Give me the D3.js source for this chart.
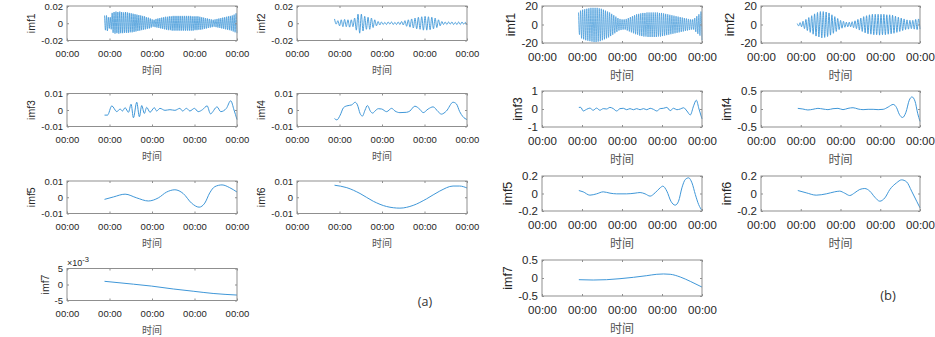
<!DOCTYPE html>
<html lang="zh">
<head>
<meta charset="UTF-8">
<title>imf</title>
<script src="https://d3js.org/d3.v7.min.js"></script>
<style>
  body { margin: 0; background: #fff; }
  svg { display: block; font-family: "Liberation Sans", Arial, sans-serif; }
</style>
</head>
<body>
<svg></svg>
<script>
const width = 935, height = 337;

// shared time axis (all ticks print as 00:00)
const xDomain = [0, 4];
const xTicks = [0, 1, 2, 3, 4];
const xTickText = '00:00';
const xTitle = '时间';

// sampled span of the oscillating series: [start, end]
const spanA = [0.883, 4];
const spanB = [0.912, 4];

// ---- panel (a) ----
// imf1/imf2: consecutive peak/trough values
const imf1a = [0.009,-0.008,0.009,-0.009,0.007,-0.006,0.007,-0.007,
  0.012,-0.011,0.013,-0.012,0.0135,-0.0115,0.013,-0.012,0.0135,-0.0115,0.013,-0.0115,0.0125,-0.011,0.013,-0.011,0.0125,-0.011,0.012,-0.0105,0.0115,-0.0105,
  0.011,-0.010,0.0105,-0.0095,0.010,-0.009,0.0095,-0.0085,0.009,-0.008,0.0085,-0.0075,0.008,-0.007,0.007,-0.0065,0.0065,-0.006,0.0055,-0.005,0.0045,-0.004,
  0.004,-0.0045,0.005,-0.005,0.0055,-0.0055,0.006,-0.006,0.0065,-0.0065,0.007,-0.007,0.0075,-0.0075,0.0075,-0.008,0.008,-0.008,0.008,-0.0085,0.0085,-0.0085,0.0085,-0.0085,0.0085,-0.0085,0.0085,-0.0085,
  0.0085,-0.0085,0.0085,-0.0085,0.0085,-0.0085,0.0085,-0.0085,0.0085,-0.0085,0.0085,-0.0085,0.008,-0.0085,0.008,-0.008,0.008,-0.008,0.008,-0.0075,0.0075,-0.0075,
  0.007,-0.007,0.0065,-0.0065,0.006,-0.006,0.0055,-0.0055,0.005,-0.005,0.0045,-0.0045,0.004,-0.004,
  0.0045,-0.0045,0.005,-0.005,0.0055,-0.0055,0.006,-0.006,0.0065,-0.0065,0.007,-0.007,0.0075,-0.0075,0.008,-0.008,0.0085,-0.0085,0.009,-0.0095,0.01,-0.0105,0.0115,-0.0115];

const imf2a = [0.005,-0.001,0.003,-0.003,
  0.004,-0.004,0.0045,-0.004,0.004,-0.0045,0.004,-0.004,
  0.006,-0.008,0.0105,-0.0115,0.0105,-0.009,0.008,-0.007,0.007,-0.007,0.006,
  -0.005,0.004,-0.003,0.002,-0.002,
  0.0015,-0.0015,0.001,-0.0015,0.0015,-0.001,0.0015,-0.0015,0.001,-0.0015,0.0015,-0.0015,0.002,
  -0.002,0.003,-0.0035,0.004,-0.0045,0.005,-0.0055,0.006,-0.0065,0.007,-0.007,0.0075,-0.008,0.008,-0.008,0.0075,-0.0075,0.007,-0.0065,0.006,-0.005,0.004,-0.003,
  0.002,-0.0015,0.0015,-0.0015,0.0015,-0.001,0.0015,-0.0015,0.001,-0.0015,0.0015,-0.0015,0.0015,-0.001,0.001,-0.002];

// imf3..imf7: [time, value]
const imf3a = [[0.883,-0.0031],[0.953,-0.0031],[1.055,0.0025],[1.172,-0.001],[1.25,0.0006],[1.305,-0.0006],[1.367,0.0014],[1.445,-0.0014],[1.508,0.0035],[1.563,-0.0047],[1.641,0.0047],[1.703,-0.0041],[1.758,0.0027],[1.82,-0.0021],[1.875,0.0016],[1.953,-0.0014],[2.055,0.0014],[2.109,-0.0006],[2.188,0.001],[2.305,-0.0002],[2.422,0.0002],[2.539,-0.0002],[2.656,0.001],[2.719,-0.0006],[2.813,0.001],[2.89,-0.0006],[3.0,0.001],[3.086,-0.001],[3.188,0.0002],[3.297,0.0025],[3.375,-0.0023],[3.531,0.0019],[3.617,-0.001],[3.75,0.001],[3.852,0.0056],[3.93,0.0],[4.0,-0.0058]];
const imf4a = [[0.883,-0.0052],[0.938,-0.006],[1.016,-0.0031],[1.094,0.0014],[1.172,0.0025],[1.289,0.0031],[1.367,0.0047],[1.422,0.0031],[1.484,-0.0021],[1.539,-0.0037],[1.602,0],[1.656,0.0027],[1.734,-0.001],[1.781,-0.0019],[1.836,-0.0006],[1.914,0.0008],[1.992,0.0006],[2.109,-0.001],[2.227,0.001],[2.305,-0.0006],[2.422,-0.0016],[2.578,-0.0014],[2.656,-0.0006],[2.773,0.0023],[2.891,0.0004],[2.969,-0.0016],[3.086,0.0006],[3.203,0.0019],[3.32,-0.001],[3.398,-0.0025],[3.516,-0.0006],[3.672,0.0047],[3.75,0.0037],[3.828,-0.001],[3.906,-0.0041],[4.0,-0.0058]];
const imf5a = [[0.883,-0.0013],[1.094,0.0002],[1.367,0.0019],[1.641,-0.0004],[1.914,-0.0023],[2.148,-0.0004],[2.344,0.0032],[2.539,0.0046],[2.734,0.0023],[2.93,-0.0036],[3.109,-0.0061],[3.242,-0.0036],[3.359,0.0027],[3.477,0.0065],[3.648,0.0076],[3.828,0.0059],[4.0,0.0032]];
const imf6a = [[0.883,0.0074],[1.172,0.0059],[1.484,0.0023],[1.797,-0.0025],[2.109,-0.0057],[2.422,-0.0067],[2.734,-0.005],[3.047,-0.001],[3.359,0.0038],[3.672,0.0069],[3.828,0.0069],[4.0,0.0057]];
const imf7a = [[0.883,0.001],[1.563,0.0001],[1.992,-0.0005],[2.5,-0.0014],[2.969,-0.0021],[3.438,-0.0028],[4.0,-0.0033]];

// ---- panel (b) ----
const imf1b = [13,-11,
  15,-15,16,-16,16.5,-17,17,-17.5,17.5,-18,18,-18.5,18,-19,18,-19,
  18,-18.5,17.5,-18,17,-17,16,-16,15,-15,14,-14,13,-12.5,11.5,-11,10,-9.5,8.5,-8,7,-6.5,
  6,-6,5.5,-5.5,5.5,-5.5,6,
  -6.5,7,-7.5,8,-8.5,9,-9.5,10,-10.5,11,-11,11.5,-12,12,-12.5,12.5,-13,12.5,-13,13,-13.5,13,-13.5,
  13,-13.5,13,-13.5,13,-13.5,13,-13,12.5,-13,12.5,-12.5,12,-12,11.5,-11.5,
  11,-11,10.5,-10.5,10,-10,9.5,-9.5,9,-9,8.5,-8.5,8,-8,7.5,-7.5,7,-7,6.5,-6.5,6,-6,5.5,-5.5,5.5,-5.5,
  7,-8,9,-10,11,-12,14,-17];

const imf2b = [1,-1.5,2,-2.5,
  3.5,-4.5,5.5,-6.5,7.5,-8.5,9.5,
  -10.5,11.5,-12.5,13,-13.5,14,-14.5,14,-14,13.5,-13,12.5,
  -11.5,10.5,-9.5,8.5,-7.5,6.5,-5.5,4.5,-4,3.5,-3,2.5,
  -2.5,2.5,-2.5,3,
  -3.5,4,-4.5,5.5,-6,7,-7.5,8.5,-9,9.5,-10,10.5,-10.5,11,
  -11,11,-11,11,-11.5,11,-11,11,-11,10.5,-10.5,10.5,-10,10,
  -9.5,9,-8.5,8,-7.5,7,-6.5,6,-5.5,5,-5,4.5,-4.5,4.5,
  -5,5.5,-5.5,6,-5];

const imf3b = [[0.921,0.09],[0.971,0.09],[1.029,-0.11],[1.113,-0.02],[1.197,0.05],[1.28,-0.07],[1.364,0.05],[1.448,-0.07],[1.531,0.02],[1.615,0],[1.699,0.09],[1.782,0.02],[1.866,-0.11],[1.95,0.02],[2.033,0.04],[2.117,-0.04],[2.2,0.02],[2.285,-0.04],[2.368,0.02],[2.452,-0.04],[2.536,0.02],[2.619,-0.04],[2.703,0.04],[2.787,-0.02],[2.87,-0.11],[2.954,0.02],[3.038,0.04],[3.121,0.09],[3.205,-0.09],[3.289,0.04],[3.372,-0.04],[3.456,0],[3.54,0.07],[3.623,-0.11],[3.707,-0.33],[3.791,0.18],[3.858,0.49],[3.925,0],[4.0,-0.55]];
const imf4b = [[0.926,0.018],[1.053,0],[1.179,-0.027],[1.305,-0.009],[1.432,0.018],[1.558,0],[1.684,-0.018],[1.811,0.009],[1.937,0.018],[2.063,-0.018],[2.189,0.018],[2.316,0.036],[2.442,0],[2.568,-0.018],[2.695,-0.009],[2.821,-0.009],[2.947,-0.018],[3.074,-0.009],[3.2,0.055],[3.326,0.127],[3.411,0.036],[3.478,-0.145],[3.562,-0.236],[3.646,-0.091],[3.73,0.245],[3.798,0.336],[3.874,0.218],[3.941,-0.118],[4.0,-0.345]];
const imf5b = [[0.921,0.034],[1.029,0.019],[1.197,-0.019],[1.364,-0.004],[1.531,0.019],[1.699,0.004],[1.866,-0.004],[2.117,-0.004],[2.326,0.004],[2.452,0.011],[2.577,-0.004],[2.703,-0.03],[2.828,0.008],[2.954,0.065],[3.021,0.084],[3.121,0.027],[3.222,-0.088],[3.331,-0.133],[3.414,-0.088],[3.498,0.065],[3.582,0.16],[3.665,0.179],[3.749,0.122],[3.833,-0.011],[3.916,-0.126],[4.0,-0.194]];
const imf6b = [[0.926,0.034],[1.137,0.008],[1.389,-0.019],[1.642,-0.004],[1.853,0.019],[1.979,0.027],[2.105,0.004],[2.232,-0.023],[2.358,0.008],[2.484,0.046],[2.611,0.057],[2.737,0.027],[2.863,-0.042],[2.989,-0.088],[3.116,-0.05],[3.242,0.046],[3.411,0.122],[3.537,0.156],[3.663,0.133],[3.789,0.027],[3.916,-0.088],[4.0,-0.164]];
const imf7b = [[0.921,-0.047],[1.28,-0.056],[1.615,-0.047],[1.95,-0.019],[2.285,0.019],[2.619,0.065],[2.87,0.103],[3.038,0.112],[3.205,0.103],[3.456,0.028],[3.707,-0.093],[4.0,-0.252]];

// y ticks per subplot
const ticksA12 = [-0.02, 0, 0.02];
const ticksA36 = [-0.01, 0, 0.01];
const ticksA7 = [-0.005, 0, 0.005];
const ticksA7Text = ['-5', '0', '5'];
const ticksB12 = [-20, 0, 20];
const ticksB3 = [-1, 0, 1];
const ticksB4 = [-0.5, 0, 0.5];
const ticksB56 = [-0.2, 0, 0.2];
const ticksB7 = [-0.5, 0, 0.5];

// turn a peak/trough list into [time, value] samples over a span
const sampled = (vals, span) => vals.map((v, i) => [span[0] + i * (span[1] - span[0]) / (vals.length - 1), v]);

const svg = d3.select('svg').attr('width', width).attr('height', height);

const lineColor = '#3f97d8';
const boxColor = '#8f8f8f';
const textColor = '#262626';

// layout of the two panels
const layoutA = {
  cols: [[67, 237], [297, 467]],
  rows: [[6, 40.5], [93.5, 126.5], [181, 213.5], [268.5, 300.5]],
  tick: 9.5, label: 10.5, title: 10, tickPad: 10, titleOff: 33
};
const layoutB = {
  cols: [[542, 702], [761, 920]],
  rows: [[6, 43], [91, 127], [176, 211], [260, 296]],
  tick: 11.5, label: 12.5, title: 12, tickPad: 10, titleOff: 37
};

const plots = [
  { L: layoutA, r: 0, c: 0, name: 'imf1', pts: sampled(imf1a, spanA), yt: ticksA12, w: 0.8 },
  { L: layoutA, r: 0, c: 1, name: 'imf2', pts: sampled(imf2a, spanA), yt: ticksA12, w: 0.9 },
  { L: layoutA, r: 1, c: 0, name: 'imf3', pts: imf3a, yt: ticksA36 },
  { L: layoutA, r: 1, c: 1, name: 'imf4', pts: imf4a, yt: ticksA36 },
  { L: layoutA, r: 2, c: 0, name: 'imf5', pts: imf5a, yt: ticksA36 },
  { L: layoutA, r: 2, c: 1, name: 'imf6', pts: imf6a, yt: ticksA36 },
  { L: layoutA, r: 3, c: 0, name: 'imf7', pts: imf7a, yt: ticksA7, ytText: ticksA7Text, exp: '-3' },
  { L: layoutB, r: 0, c: 0, name: 'imf1', pts: sampled(imf1b, spanB), yt: ticksB12, w: 0.75 },
  { L: layoutB, r: 0, c: 1, name: 'imf2', pts: sampled(imf2b, spanB), yt: ticksB12, w: 0.9 },
  { L: layoutB, r: 1, c: 0, name: 'imf3', pts: imf3b, yt: ticksB3 },
  { L: layoutB, r: 1, c: 1, name: 'imf4', pts: imf4b, yt: ticksB4 },
  { L: layoutB, r: 2, c: 0, name: 'imf5', pts: imf5b, yt: ticksB56 },
  { L: layoutB, r: 2, c: 1, name: 'imf6', pts: imf6b, yt: ticksB56 },
  { L: layoutB, r: 3, c: 0, name: 'imf7', pts: imf7b, yt: ticksB7 }
];

plots.forEach(p => {
  const L = p.L;
  const [x0, x1] = L.cols[p.c];
  const [y0, y1] = L.rows[p.r];
  const x = d3.scaleLinear().domain(xDomain).range([x0, x1]);
  const y = d3.scaleLinear().domain([p.yt[0], p.yt[p.yt.length - 1]]).range([y1, y0]);
  const tk = 2;
  const g = svg.append('g');

  const line = d3.line().x(d => x(d[0])).y(d => y(d[1])).curve(d3.curveMonotoneX);
  g.append('path').datum(p.pts)
    .attr('d', line)
    .attr('fill', 'none')
    .attr('stroke', lineColor)
    .attr('stroke-width', p.w || 1);

  // inward ticks on all four sides
  const bottom = g.append('g').attr('transform', `translate(0,${y1})`)
    .call(d3.axisBottom(x).tickValues(xTicks).tickFormat(() => xTickText)
      .tickSizeInner(-tk).tickSizeOuter(0).tickPadding(L.tickPad));
  const top = g.append('g').attr('transform', `translate(0,${y0})`)
    .call(d3.axisTop(x).tickValues(xTicks).tickFormat('').tickSizeInner(-tk).tickSizeOuter(0));
  const yFmt = p.ytText ? (d, i) => p.ytText[i] : d => String(d);
  const left = g.append('g').attr('transform', `translate(${x0},0)`)
    .call(d3.axisLeft(y).tickValues(p.yt).tickFormat(yFmt).tickSizeInner(-tk).tickSizeOuter(0).tickPadding(4));
  const right = g.append('g').attr('transform', `translate(${x1},0)`)
    .call(d3.axisRight(y).tickValues(p.yt).tickFormat('').tickSizeInner(-tk).tickSizeOuter(0));

  [bottom, top, left, right].forEach(a => {
    a.select('.domain').remove();
    a.selectAll('line').attr('stroke', boxColor);
    a.selectAll('text').attr('fill', textColor).style('font-size', L.tick + 'px')
      .style('font-family', '"Liberation Sans", Arial, sans-serif');
  });

  g.append('rect')
    .attr('x', x0).attr('y', y0)
    .attr('width', x1 - x0).attr('height', y1 - y0)
    .attr('fill', 'none').attr('stroke', boxColor).attr('stroke-width', 1);

  // x title
  g.append('text')
    .attr('x', (x0 + x1) / 2).attr('y', y1 + L.titleOff)
    .attr('text-anchor', 'middle')
    .style('font-family', '"Noto Sans CJK SC", sans-serif')
    .style('font-size', L.title + 'px')
    .attr('fill', '#555')
    .text(xTitle);

  // y label placed left of the tick labels
  const bb = left.node().getBBox();
  const lx = x0 + bb.x - 6;
  g.append('text')
    .attr('transform', `translate(${lx},${(y0 + y1) / 2}) rotate(-90)`)
    .attr('text-anchor', 'middle')
    .style('font-size', L.label + 'px')
    .attr('fill', textColor)
    .text(p.name);

  // exponent marker
  if (p.exp) {
    const t = g.append('text')
      .attr('x', x0).attr('y', y0 - 3)
      .style('font-size', (L.tick - 0.5) + 'px')
      .attr('fill', textColor);
    t.append('tspan').text('×10');
    t.append('tspan').attr('dy', -4).style('font-size', (L.tick - 2) + 'px').text(p.exp);
  }
});

// panel tags
svg.append('text').attr('x', 425).attr('y', 306).attr('text-anchor', 'middle')
  .style('font-family', '"Open Sans", sans-serif').style('font-size', '12.5px').attr('fill', '#333').text('(a)');
svg.append('text').attr('x', 888).attr('y', 300).attr('text-anchor', 'middle')
  .style('font-family', '"Open Sans", sans-serif').style('font-size', '13px').attr('fill', '#333').text('(b)');
</script>
</body>
</html>
